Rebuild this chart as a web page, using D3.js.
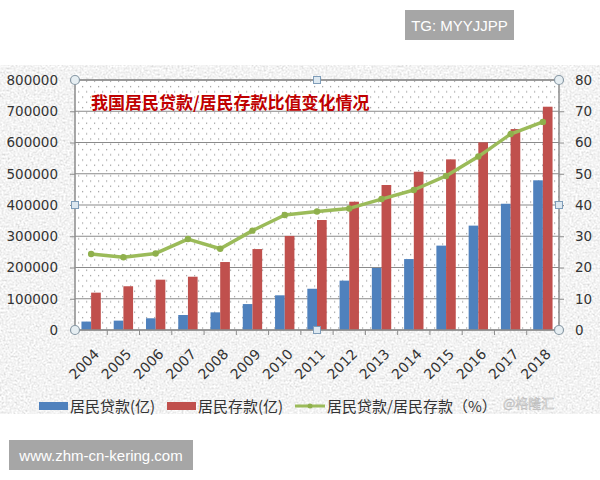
<!DOCTYPE html>
<html lang="zh">
<head>
<meta charset="utf-8">
<title>我国居民贷款/居民存款比值变化情况</title>
<script src="https://d3js.org/d3.v7.min.js"></script>
<style>
  body { margin: 0; background: #fff; }
  .axis path { display: none; }
  .axis line { stroke: #8c8c8c; }
  .axis text { font-family: "DejaVu Sans", sans-serif; font-size: 13.5px; fill: #333; }
  .grid line { stroke: #8a8a8a; stroke-width: 1.2; }
</style>
</head>
<body>
<svg id="chart"></svg>
<script>
// ---------------- data ----------------
var years    = ["2004","2005","2006","2007","2008","2009","2010","2011","2012","2013","2014","2015","2016","2017","2018"]
var loans    = [27000, 30000, 37500, 48000, 56500, 83000, 111000, 132000, 158000, 198500, 227000, 270000, 334000, 404000, 479000]
var deposits = [119500, 140000, 161000, 170500, 217500, 259000, 301000, 352000, 410500, 464000, 506500, 546000, 600500, 643000, 714500]
var ratio    = [24.3, 23.3, 24.5, 29.1, 26.0, 31.8, 36.8, 37.9, 38.9, 41.9, 44.8, 49.3, 55.5, 62.7, 66.6]
var leftTicks  = [0, 100000, 200000, 300000, 400000, 500000, 600000, 700000, 800000]
var rightTicks = [0, 10, 20, 30, 40, 50, 60, 70, 80]

var title = "我国居民贷款/居民存款比值变化情况"
var legendNames = ["居民贷款(亿)", "居民存款(亿)", "居民贷款/居民存款（%）"]

var blue = "#4f81bd", red = "#c0504d", green = "#9bbb59"

// ---------------- size ----------------
var W = 600, H = 480
var plot = {left: 75, top: 80, right: 559, bottom: 330}
var pw = plot.right - plot.left, ph = plot.bottom - plot.top

var svg = d3.select("#chart").attr("width", W).attr("height", H)
var defs = svg.append("defs")

// textured gray background
var f = defs.append("filter").attr("id", "grain")
  .attr("x", 0).attr("y", 0).attr("width", "100%").attr("height", "100%")
f.append("feTurbulence").attr("type", "fractalNoise").attr("baseFrequency", 0.5)
  .attr("numOctaves", 3).attr("seed", 4)
f.append("feColorMatrix").attr("type", "matrix")
  .attr("values", "0.33 0.33 0.33 0 0  0.33 0.33 0.33 0 0  0.33 0.33 0.33 0 0  0 0 0 0 1")
var ct = f.append("feComponentTransfer")
;["feFuncR","feFuncG","feFuncB"].forEach(n => ct.append(n).attr("type","linear").attr("slope",0.9).attr("intercept",0.45))

svg.append("rect").attr("x", 0).attr("y", 65).attr("width", W).attr("height", 349)
  .attr("filter", "url(#grain)")

// dotted plot fill
var pat = defs.append("pattern").attr("id", "dots").attr("patternUnits", "userSpaceOnUse")
  .attr("width", 8).attr("height", 10.5)
pat.append("rect").attr("width", 8).attr("height", 10.5).attr("fill", "#fff")
pat.append("rect").attr("x", 2).attr("y", 2).attr("width", 1.2).attr("height", 1.2).attr("fill", "#9a9a9a")
pat.append("rect").attr("x", 6).attr("y", 7.2).attr("width", 1.2).attr("height", 1.2).attr("fill", "#9a9a9a")

svg.append("rect").attr("x", plot.left).attr("y", plot.top).attr("width", pw).attr("height", ph)
  .attr("fill", "url(#dots)")

// ---------------- scales ----------------
var x = d3.scaleBand().domain(years).range([plot.left, plot.right])
var yL = d3.scaleLinear().domain([0, 800000]).range([plot.bottom, plot.top])
var yR = d3.scaleLinear().domain([0, 80]).range([plot.bottom, plot.top])
var bw = x.bandwidth() * 0.3

// grid
svg.append("g").attr("class", "grid")
  .selectAll("line").data(leftTicks).join("line")
  .attr("x1", plot.left).attr("x2", plot.right)
  .attr("y1", d => yL(d)).attr("y2", d => yL(d))

// bars
svg.append("g").selectAll("rect").data(years).join("rect")
  .attr("x", (d, i) => x(d) + x.bandwidth() / 2 - bw)
  .attr("y", (d, i) => yL(loans[i]))
  .attr("width", bw)
  .attr("height", (d, i) => yL(0) - yL(loans[i]))
  .attr("fill", blue)

svg.append("g").selectAll("rect").data(years).join("rect")
  .attr("x", (d, i) => x(d) + x.bandwidth() / 2)
  .attr("y", (d, i) => yL(deposits[i]))
  .attr("width", bw)
  .attr("height", (d, i) => yL(0) - yL(deposits[i]))
  .attr("fill", red)

// line
var line = d3.line().x((d, i) => x(years[i]) + x.bandwidth() / 2).y(d => yR(d))
svg.append("path").attr("d", line(ratio)).attr("fill", "none")
  .attr("stroke", green).attr("stroke-width", 3.5).attr("stroke-linejoin", "round")
svg.append("g").selectAll("circle").data(ratio).join("circle")
  .attr("cx", (d, i) => x(years[i]) + x.bandwidth() / 2)
  .attr("cy", d => yR(d)).attr("r", 3.2).attr("fill", "#8fb04c")

// plot border
svg.append("rect").attr("x", plot.left).attr("y", plot.top).attr("width", pw).attr("height", ph)
  .attr("fill", "none").attr("stroke", "#8c8c8c").attr("stroke-width", 1.5)

// axes
svg.append("g").attr("class", "axis").attr("transform", "translate(" + plot.left + ",0)")
  .call(d3.axisLeft(yL).tickValues(leftTicks).tickFormat(d3.format("d")).tickSize(5).tickPadding(12))
svg.append("g").attr("class", "axis").attr("transform", "translate(" + plot.right + ",0)")
  .call(d3.axisRight(yR).tickValues(rightTicks).tickSize(5).tickPadding(11))

// x ticks between categories
svg.append("g").selectAll("line").data(years.concat(["end"])).join("line")
  .attr("x1", d => d === "end" ? plot.right : x(d))
  .attr("x2", d => d === "end" ? plot.right : x(d))
  .attr("y1", plot.bottom).attr("y2", plot.bottom + 5)
  .attr("stroke", "#8c8c8c")

var xa = svg.append("g").attr("class", "axis").attr("transform", "translate(0," + plot.bottom + ")")
  .call(d3.axisBottom(x).tickSize(0).tickPadding(0))
xa.selectAll("text")
  .attr("text-anchor", "end")
  .attr("y", 0)
  .attr("dy", 0)
  .attr("transform", "translate(9,25) rotate(-45)")
  .style("font-size", "14px")

// selection handles
var corners = [[plot.left, plot.top], [plot.right, plot.top], [plot.left, plot.bottom], [plot.right, plot.bottom]]
svg.append("g").selectAll("circle").data(corners).join("circle")
  .attr("cx", d => d[0]).attr("cy", d => d[1]).attr("r", 4.5)
  .attr("fill", "#e6eef2").attr("stroke", "#8a9aa6").attr("stroke-width", 1.2)
var mids = [[(plot.left + plot.right) / 2, plot.top], [plot.left, (plot.top + plot.bottom) / 2],
            [plot.right, (plot.top + plot.bottom) / 2], [(plot.left + plot.right) / 2, plot.bottom]]
svg.append("g").selectAll("rect").data(mids).join("rect")
  .attr("x", d => d[0] - 3.5).attr("y", d => d[1] - 3.5).attr("width", 7).attr("height", 7)
  .attr("fill", "#dde8f0").attr("stroke", "#7f9db9").attr("stroke-width", 1)

// title
svg.append("text").attr("x", 91).attr("y", 109)
  .style("font-family", "'Noto Sans CJK SC', sans-serif").style("font-weight", "bold")
  .style("font-size", "17px").attr("fill", "#c00000")
  .text(title)

// legend
var lg = svg.append("g").style("font-family", "'Noto Sans CJK SC', sans-serif").style("font-size", "15px")
lg.append("rect").attr("x", 39).attr("y", 402).attr("width", 29).attr("height", 8).attr("fill", blue)
lg.append("text").attr("x", 70).attr("y", 412).attr("fill", "#333").text(legendNames[0])
lg.append("rect").attr("x", 167).attr("y", 402).attr("width", 29).attr("height", 8).attr("fill", red)
lg.append("text").attr("x", 198).attr("y", 412).attr("fill", "#333").text(legendNames[1])
lg.append("line").attr("x1", 295).attr("x2", 325).attr("y1", 406).attr("y2", 406)
  .attr("stroke", green).attr("stroke-width", 3)
lg.append("circle").attr("cx", 310).attr("cy", 406).attr("r", 2.5).attr("fill", "#8fb04c")
lg.append("text").attr("x", 327).attr("y", 412).attr("fill", "#333").text(legendNames[2])

// watermark
svg.append("text").attr("x", 503).attr("y", 408)
  .style("font-family", "'Noto Sans CJK SC', sans-serif").style("font-size", "13px")
  .attr("fill", "#f4f4f4").attr("stroke", "#b8b8b8").attr("stroke-width", 0.5)
  .text("@格隆汇")

// overlay labels
svg.append("rect").attr("x", 405).attr("y", 10).attr("width", 109).attr("height", 30).attr("fill", "#a6a6a6")
svg.append("text").attr("x", 459.5).attr("y", 31).attr("text-anchor", "middle")
  .style("font-family", "'Liberation Sans', Arial, sans-serif").style("font-size", "15px")
  .attr("fill", "#fff").text("TG: MYYJJPP")
svg.append("rect").attr("x", 9).attr("y", 440).attr("width", 184).attr("height", 30).attr("fill", "#a6a6a6")
svg.append("text").attr("x", 101).attr("y", 461).attr("text-anchor", "middle")
  .style("font-family", "'Liberation Sans', Arial, sans-serif").style("font-size", "15px")
  .attr("fill", "#fff").text("www.zhm-cn-kering.com")
</script>
</body>
</html>
